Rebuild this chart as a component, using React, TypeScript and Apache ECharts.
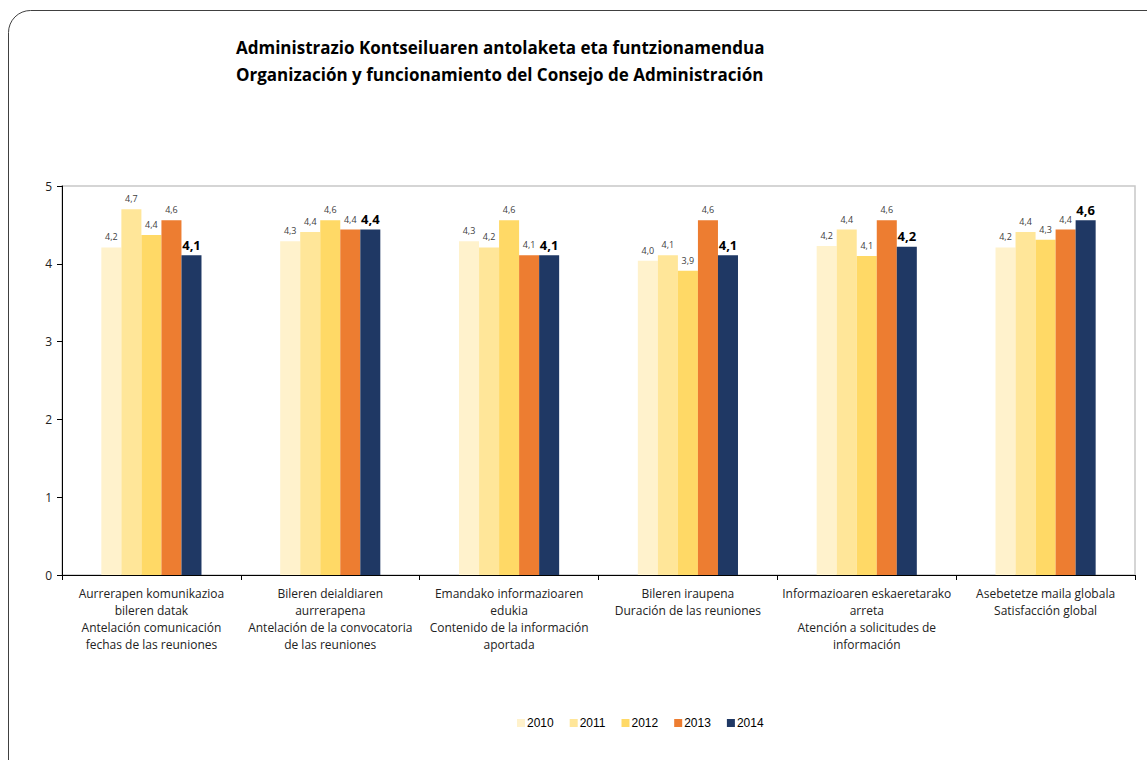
import React, { useEffect, useRef } from "react";
import * as echarts from "echarts";

const categories = [
  "Aurrerapen komunikazioa\nbileren datak\nAntelación comunicación\nfechas de las reuniones",
  "Bileren deialdiaren\naurrerapena\nAntelación de la convocatoria\nde las reuniones",
  "Emandako informazioaren\nedukia\nContenido de la información\naportada",
  "Bileren iraupena\nDuración de las reuniones",
  "Informazioaren eskaeretarako\narreta\nAtención a solicitudes de\ninformación",
  "Asebetetze maila globala\nSatisfacción global",
];

const years = ["2010", "2011", "2012", "2013", "2014"];
const v2010 = [4.21, 4.29, 4.29, 4.04, 4.23, 4.21];
const v2011 = [4.7, 4.41, 4.21, 4.11, 4.44, 4.41];
const v2012 = [4.37, 4.56, 4.56, 3.91, 4.1, 4.31];
const v2013 = [4.56, 4.44, 4.11, 4.56, 4.56, 4.44];
const v2014 = [4.11, 4.44, 4.11, 4.11, 4.22, 4.56];
const seriesValues = [v2010, v2011, v2012, v2013, v2014];
const colors = ["#FFF2CC", "#FFE699", "#FFD966", "#ED7D31", "#1F3864"];
const yTicks = [0, 1, 2, 3, 4, 5];

const titleLines = [
  "Administrazio Kontseiluaren antolaketa eta funtzionamendua",
  "Organización y funcionamiento del Consejo de Administración",
];

const FONT = "'Open Sans', 'Noto Sans', sans-serif";

export default function App() {
  const ref = useRef<HTMLDivElement>(null);
  useEffect(() => {
    if (!ref.current) return;
    const chart = echarts.init(ref.current, null, { renderer: "svg" });
    const fmt = (p: any) => Number(p.value).toFixed(1).replace(".", ",");
    chart.setOption({
      animation: false,
      backgroundColor: "#ffffff",
      textStyle: { fontFamily: FONT },
      title: {
        text: titleLines.join("\n"),
        left: 236,
        top: 34,
        padding: 0,
        textStyle: {
          fontFamily: FONT,
          fontSize: 17,
          fontWeight: "bold",
          color: "#000",
          lineHeight: 27,
        },
      },
      legend: {
        data: years,
        left: 517,
        top: 717,
        padding: 0,
        itemWidth: 8,
        itemHeight: 8,
        itemGap: 16,
        icon: "rect",
        textStyle: {
          fontFamily: "'Liberation Sans', Arial, sans-serif",
          fontSize: 12,
          color: "#000",
          padding: [0, 0, 0, -3],
        },
      },
      graphic: [
        {
          type: "rect",
          shape: { x: 8.5, y: 10.5, width: 1180, height: 800, r: 22 },
          style: { fill: "none", stroke: "#404040", lineWidth: 1 },
          silent: true,
        },
      ],
      grid: {
        left: 62,
        right: 12,
        top: 186,
        bottom: 185,
        show: true,
        borderColor: "#C8C8C8",
        borderWidth: 1.5,
        containLabel: false,
      },
      xAxis: {
        type: "category",
        data: categories,
        boundaryGap: true,
        axisLine: { lineStyle: { color: "#000", width: 1 } },
        axisTick: { show: true, length: 5, lineStyle: { color: "#000" } },
        axisLabel: {
          interval: 0,
          fontFamily: FONT,
          fontSize: 12,
          color: "#222",
          lineHeight: 17,
          margin: 10,
        },
        splitLine: { show: false },
      },
      yAxis: {
        type: "value",
        min: yTicks[0],
        max: yTicks[yTicks.length - 1],
        interval: 1,
        axisLine: { show: true, lineStyle: { color: "#000", width: 1 } },
        axisTick: { show: true, length: 5, lineStyle: { color: "#000" } },
        axisLabel: { fontFamily: FONT, fontSize: 12, color: "#222", margin: 10 },
        splitLine: { show: false },
      },
      series: years.map((y, i) => ({
        name: y,
        type: "bar",
        data: seriesValues[i],
        barGap: "0%",
        barCategoryGap: "44%",
        itemStyle: { color: colors[i] },
        label: {
          show: true,
          position: "top",
          distance: i === 4 ? 4 : 6,
          formatter: fmt,
          fontFamily: FONT,
          fontSize: i === 4 ? 13 : 9,
          fontWeight: i === 4 ? "bold" : "normal",
          color: i === 4 ? "#000" : "#404040",
        },
      })),
    });
    return () => chart.dispose();
  }, []);
  return (
    <div
      ref={ref}
      style={{ position: "fixed", left: 0, top: 0, width: 1147, height: 760 }}
    />
  );
}
